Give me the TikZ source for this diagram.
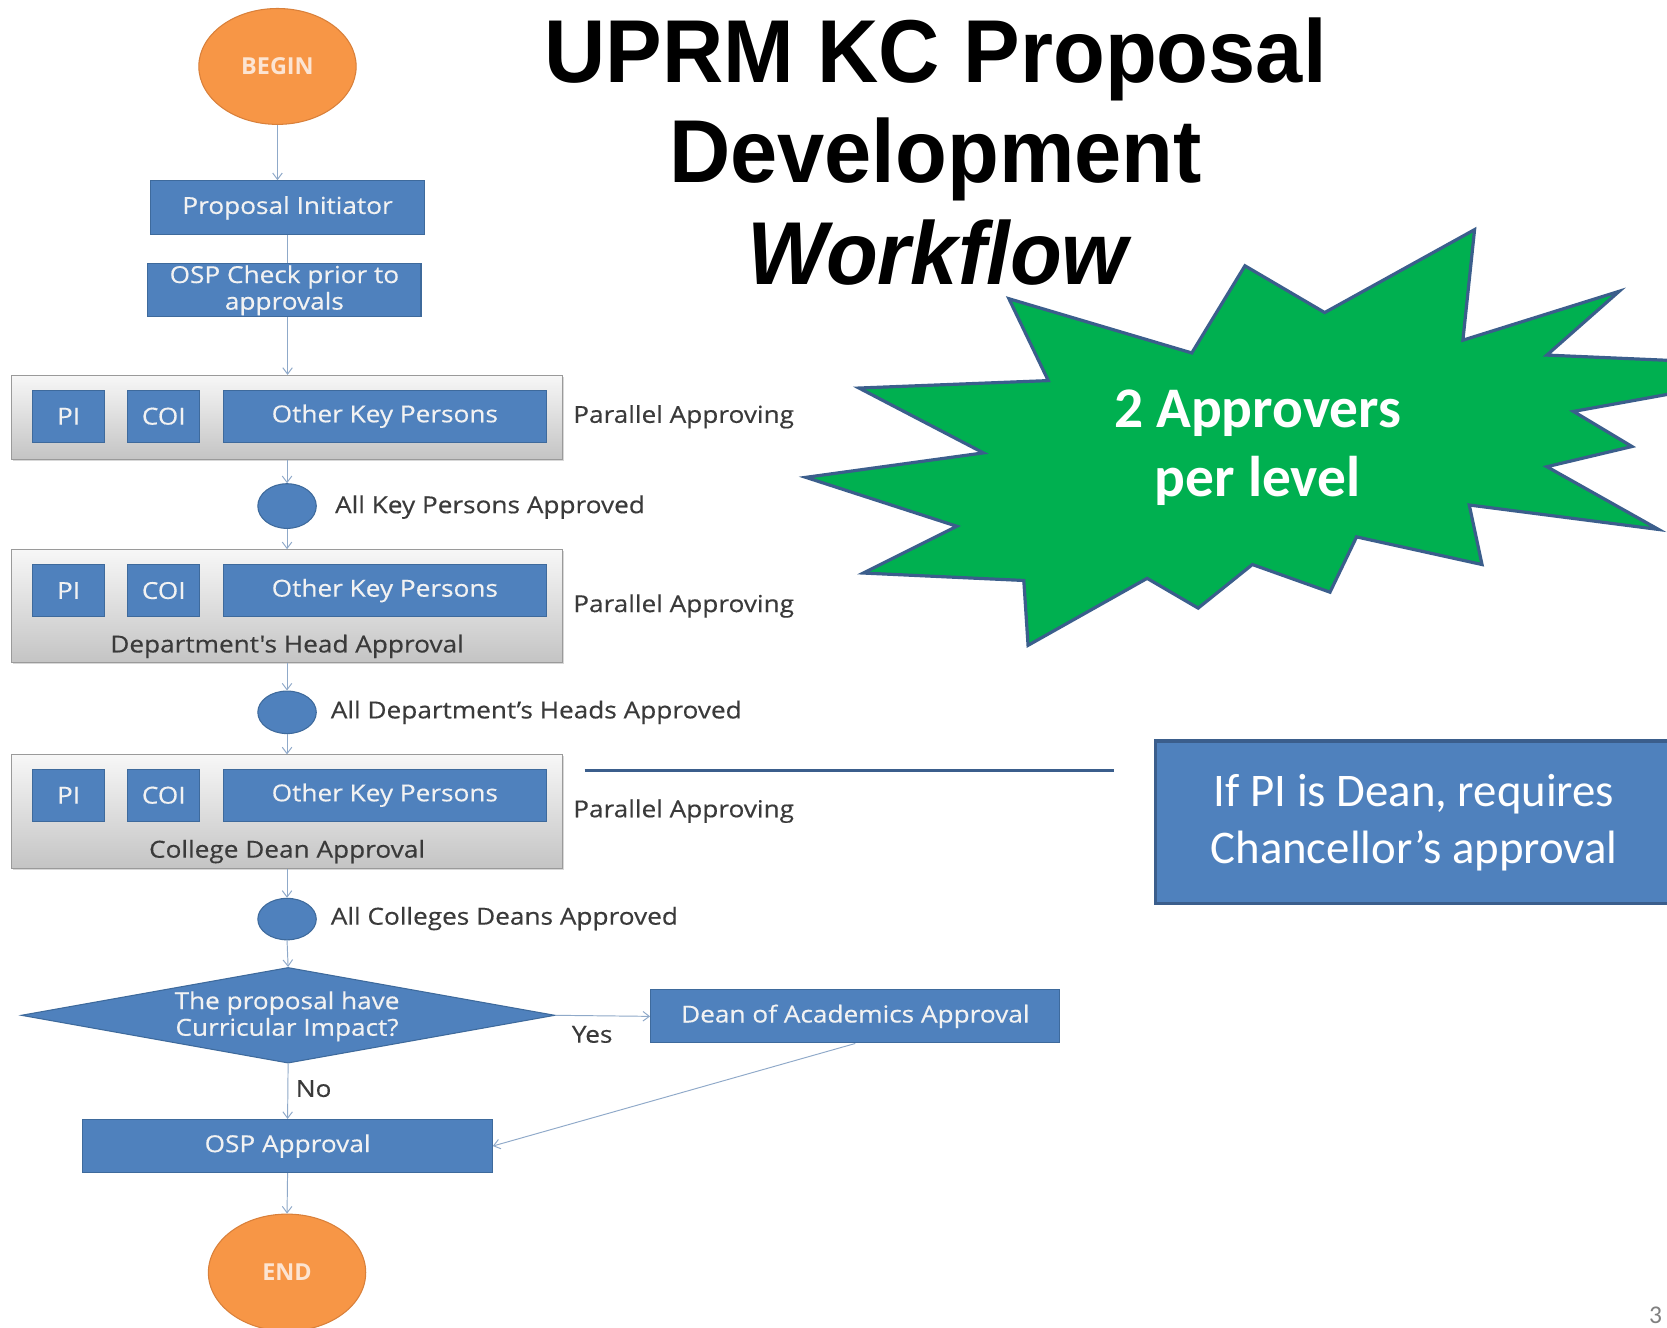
\documentclass[tikz,border=0pt]{standalone}
\usepackage{fontspec}
\setmainfont{Open Sans}
\newfontfamily\osw{Open Sans}[FakeStretch=1.12, FakeBold=0.4]
\newfontfamily\oswnt{Open Sans}[FakeStretch=1.12, FakeBold=0.4, Ligatures=TeXOff]
\newfontfamily\titlefont{Liberation Sans}[FakeStretch=0.95]
\newfontfamily\calib{Carlito}
\usetikzlibrary{shapes.geometric,arrows.meta,shadows}
\definecolor{bfill}{HTML}{4F81BD}
\definecolor{bbord}{HTML}{3E6A9C}
\definecolor{btext}{HTML}{F2F2F2}
\definecolor{gbord}{HTML}{9A9A9A}
\definecolor{gtop}{HTML}{F7F7F7}
\definecolor{gbot}{HTML}{C4C4C4}
\definecolor{lbltext}{HTML}{3A3A3A}
\definecolor{conncol}{HTML}{8FA9C9}
\definecolor{ofill}{HTML}{F79646}
\definecolor{obord}{HTML}{D9803A}
\definecolor{otext}{HTML}{FCE4D2}
\definecolor{sfill}{HTML}{00B050}
\definecolor{sbord}{HTML}{3B5E8C}
\newcommand{\lf}{\osw\fontsize{22}{25}\selectfont}
\newcommand{\lfb}{\fontsize{22}{25}\selectfont\bfseries}
\tikzset{
 blueb/.style={draw=bbord, fill=bfill, line width=1pt, text=btext, font=\lf, inner sep=0pt, align=center},
 grp/.style={draw=gbord, line width=0.8pt, top color=gtop, bottom color=gbot, inner sep=0pt,
   drop shadow={shadow xshift=1.5pt, shadow yshift=-1.5pt, opacity=0.3}},
 lbl/.style={text=lbltext, font=\lf, inner sep=0pt, anchor=west},
 captxt/.style={text=lbltext, font=\lf, inner sep=0pt},
 conn/.style={draw=conncol, line width=0.9pt, -{Straight Barb[length=6pt,width=9pt]}},
 plainconn/.style={draw=conncol, line width=0.9pt},
 term/.style={ellipse, draw=obord, fill=ofill, line width=1pt, text=otext, font=\lfb, inner sep=0pt},
 dot/.style={ellipse, draw=bbord, fill=bfill, line width=1pt, inner sep=0pt},
 titl/.style={font=\titlefont\fontsize{84}{94}\selectfont\bfseries, anchor=base, inner sep=0pt},
}
\begin{document}
\begin{tikzpicture}[x=1pt,y=-1pt]
\useasboundingbox (0,0) rectangle (1568,1249);
\clip (0,0) rectangle (1568,1249);
\fill[white] (0,0) rectangle (1568,1249);

% Title
\node[titl] (t1) at (880,78) {UPRM KC Proposal};
\node[titl] (t2) at (880,172) {Development};
\node[titl, font=\titlefont\fontsize{84}{94}\selectfont\bfseries\itshape] (t3) at (882,268) {Workflow};

% Star
\draw[fill=sfill, draw=sbord, line width=3pt, line join=miter]
 (949,281) -- (1121,332) -- (1171,250) -- (1246,294) -- (1387,216) -- (1376,320)
 -- (1523,274) -- (1455,334) -- (1640,342) -- (1640,358) -- (1480,387) -- (1535,420)
 -- (1455,439) -- (1560,498) -- (1382,475) -- (1394,531) -- (1276,505) -- (1251,557)
 -- (1178,531) -- (1127,572) -- (1079,544) -- (967,607) -- (963,546) -- (812,539)
 -- (900,495) -- (758,449) -- (925,426) -- (808,365) -- (986,358) -- cycle;
\node[font=\calib\fontsize{54}{65}\selectfont\bfseries, text=white, align=center, inner sep=0pt] (startxt) at (1183,421) {2 Approvers\\per level};

% Callout
\coordinate (l1) at (550,725);
\coordinate (l2) at (1048,725);
\draw[sbord, line width=3pt] (l1) -- (l2);
\node[draw=sbord, fill=bfill, line width=3pt, minimum width=560, minimum height=153, inner sep=0pt] (callout) at (1367,773.5) {};
\node[font=\calib\fontsize{44}{54}\selectfont, text=white, align=center, inner sep=0pt] (calltxt) at (1330,774) {If PI is Dean, requires\\Chancellor’s approval};

% Flowchart
\node[term, minimum width=148, minimum height=109] (begin) at (261,62.5) {BEGIN};
\node[blueb, minimum width=257, minimum height=51] (pinit) at (270.5,195.5) {Proposal Initiator};
\node[blueb, minimum width=257, minimum height=50] (osp) at (267.5,273) {OSP Check prior to\\approvals};

\node[grp, minimum width=518, minimum height=79] (g1) at (270,392.5) {};
\node[blueb, minimum width=67, minimum height=49] (pi1) at (64.5,391.5) {PI};
\node[blueb, minimum width=68, minimum height=49] (coi1) at (154,391.5) {COI};
\node[blueb, minimum width=304, minimum height=49] (okp1) at (362,391.5) {Other Key Persons};
\node[lbl] (par1) at (539,392) {Parallel Approving};

\node[dot, minimum width=55, minimum height=42] (c1) at (270,476) {};
\node[lbl] (c1t) at (315,477) {All Key Persons Approved};

\node[grp, minimum width=518, minimum height=106] (g2) at (270,570) {};
\node[blueb, minimum width=67, minimum height=49] (pi2) at (64.5,555.5) {PI};
\node[blueb, minimum width=68, minimum height=49] (coi2) at (154,555.5) {COI};
\node[blueb, minimum width=304, minimum height=49] (okp2) at (362,555.5) {Other Key Persons};
\node[captxt, font=\oswnt\fontsize{22}{25}\selectfont] (g2t) at (270,608) {Department's Head Approval};
\node[lbl] (par2) at (539,570) {Parallel Approving};

\node[dot, minimum width=55, minimum height=40] (c2) at (270,670) {};
\node[lbl] (c2t) at (311,670) {All Department’s Heads Approved};

\node[grp, minimum width=518, minimum height=107] (g3) at (270,763.5) {};
\node[blueb, minimum width=67, minimum height=49] (pi3) at (64.5,748) {PI};
\node[blueb, minimum width=68, minimum height=49] (coi3) at (154,748) {COI};
\node[blueb, minimum width=304, minimum height=49] (okp3) at (362,748) {Other Key Persons};
\node[captxt] (g3t) at (270,801) {College Dean Approval};
\node[lbl] (par3) at (539,763) {Parallel Approving};

\node[dot, minimum width=55, minimum height=39] (c3) at (270,864.5) {};
\node[lbl] (c3t) at (311,864) {All Colleges Deans Approved};

\node[diamond, draw=bbord, fill=bfill, line width=1pt, inner sep=0pt, aspect=5.6, minimum width=502, minimum height=90] (dia) at (271,955) {};
\node[text=btext, font=\lf, align=center, inner sep=0pt] (diat) at (270,956) {The proposal have\\Curricular Impact?};

\node[blueb, minimum width=385, minimum height=50] (dean) at (804.5,956) {Dean of Academics Approval};
\node[blueb, minimum width=385, minimum height=50] (ospa) at (270.5,1078) {OSP Approval};
\node[term, minimum width=148, minimum height=110] (end) at (270,1197) {END};

\node[captxt] (yes) at (557,973) {Yes};
\node[captxt] (no) at (295,1024) {No};

% Connectors
\draw[conn] (begin.south) -- (begin.south |- pinit.north);
\draw[plainconn] (pinit.south) -- (pinit.south |- osp.north);
\draw[conn] (osp.south -| pinit.south) -- (pinit.south |- g1.north);
\draw[conn] (g1.south) -- (c1.north);
\draw[conn] (c1.south) -- (g2.north);
\draw[conn] (g2.south) -- (c2.north);
\draw[conn] (c2.south) -- (g3.north);
\draw[conn] (g3.south) -- (c3.north);
\draw[conn] (c3.south) -- (dia.north);
\draw[conn] (dia.east) -- (dean.west);
\draw[conn] (dia.south) -- (ospa.north);
\draw[conn] (dean.south) -- (ospa.east);
\draw[conn] (ospa.south) -- (end.north);

\node[font=\calib\fontsize{24}{28}\selectfont, text=gray, anchor=west, inner sep=0pt] (pgno) at (1551,1237) {3};
\end{tikzpicture}
\end{document}
